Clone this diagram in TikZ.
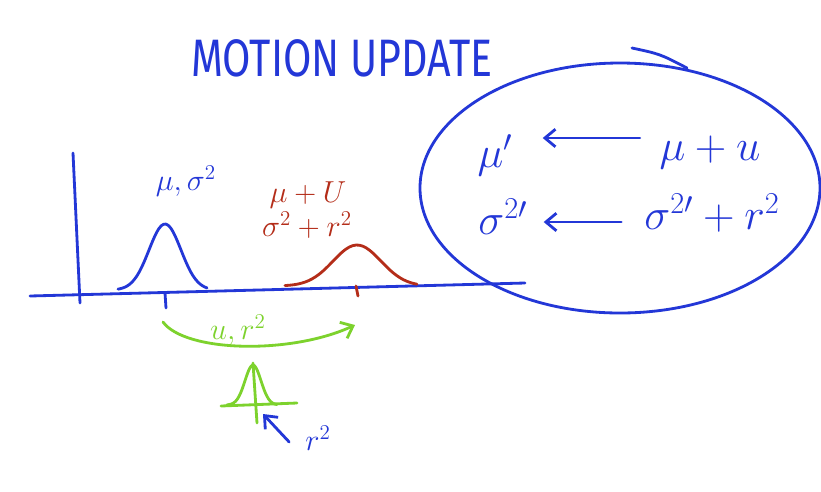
\documentclass[tikz,border=0pt]{standalone}
\usepackage{fontspec}
\setsansfont{Fira Sans}
\usetikzlibrary{arrows.meta}
\definecolor{penblue}{RGB}{35,55,215}
\definecolor{penred}{RGB}{180,45,25}
\definecolor{pengreen}{RGB}{125,210,45}
\tikzset{
  pen/.style={line width=1.6pt, line cap=round, line join=round},
  tip/.style={-{Straight Barb[length=6pt,width=10pt]}},
  bigtxt/.style={text=penblue, font=\fontsize{26}{28}\selectfont, inner sep=1pt},
  smalltxt/.style={font=\fontsize{17}{19}\selectfont, inner sep=1pt}
}
\begin{document}
\begin{tikzpicture}[x=0.02cm, y=-0.02cm]
\useasboundingbox[fill=white] (0,0) rectangle (821,491);
% title
\node[text=penblue, font=\sffamily\fontsize{30}{32}\selectfont, xscale=0.78] (title) at (342,58) {MOTION UPDATE};
\draw[pen,penblue] (632,48) .. controls (660,54) .. (687,68);
% update rules
\draw[pen,penblue] (620,188) ellipse [x radius=200, y radius=125];
\node[bigtxt] (munew) at (495,155) {$\mu'$};
\node[bigtxt] (muu) at (710,152) {$\mu + u$};
\node[bigtxt] (signew) at (503,217) {$\sigma^{2\prime}$};
\node[bigtxt] (sigr) at (712,213) {$\sigma^{2\prime} + r^2$};
\draw[pen,penblue,tip,shorten <=10pt,shorten >=16pt] (muu.west |- 0,138) -- (munew.east |- 0,138);
\draw[pen,penblue,tip,shorten <=12pt,shorten >=8pt] (sigr.west |- 0,222) -- (signew.east |- 0,222);
% axes
\draw[pen,penblue] (30,296) -- (525,283);
\draw[pen,penblue] (73,153) -- (80,303);
% prior
\draw[pen,penblue] plot[domain=-47:42,smooth,samples=40] ({165+\x},{290-66*exp(-(\x/16)^2/2)});
\draw[pen,penblue] (165,293) -- (166,308);
\node[smalltxt,text=penblue] (prior) at (186,181) {$\mu,\sigma^2$};
% predicted
\draw[pen,penred] plot[domain=-72:60,smooth,samples=40] ({357+\x},{286-41*exp(-(\x/24)^2/2)});
\draw[pen,penred] (356,286) -- (358,296);
\node[smalltxt,text=penred] (mupred) at (308,195) {$\mu + U$};
\node[smalltxt,text=penred] (sigpred) at (307,225) {$\sigma^2 + r^2$};
% motion
\coordinate (mstart) at (163,322);
\coordinate (mend) at (355,325);
\draw[pen,pengreen,tip] (mstart) .. controls (185,352) and (290,355) .. (mend);
\node[smalltxt,text=pengreen] (motion) at (238,330) {$u, r^2$};
\draw[pen,pengreen] plot[domain=-26:24,smooth,samples=30] ({253+\x},{405-40*exp(-(\x/8)^2/2)});
\draw[pen,pengreen] (221,406) -- (297,403);
\draw[pen,pengreen] (253,363) -- (257,423);
\node[smalltxt,text=penblue] (noise) at (318,438) {$r^2$};
\coordinate (noisetip) at (263,414);
\draw[pen,penblue,tip] (noise.west) ++(-14,4) -- (noisetip);
\end{tikzpicture}
\end{document}
